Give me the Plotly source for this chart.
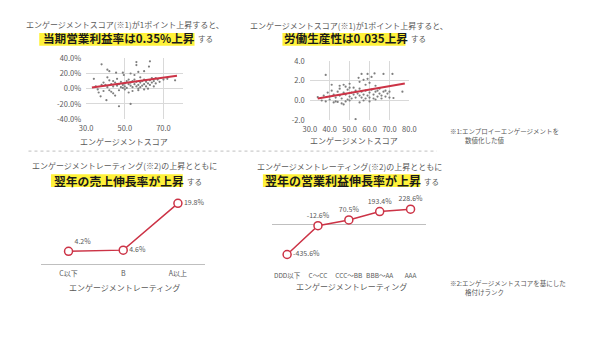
import plotly.graph_objects as go

W, H = 600, 337
FONT = "Noto Sans CJK JP"
GRAY = "#595959"
RED = "#cc3346"
GRID = "#d9d9d9"
YELLOW = "#fff23a"

# ---- data: top-left scatter (engagement score vs operating margin %) ----
s1_x = [38, 56, 63, 62.5, 56, 41, 42, 45.5, 49, 49.5, 41, 34, 53, 55, 57, 60, 58, 64, 66, 72, 76,
        47, 53, 40.5, 37.5, 36.5, 44, 45, 39, 42, 35, 36,
        40, 41, 43, 44, 45, 46, 47, 48, 48, 49, 50, 50, 51, 51, 52, 52, 53, 53, 54, 54, 55, 55,
        56, 56, 57, 57, 58, 58, 59, 59, 60, 60, 61, 61, 62, 62, 63, 63, 64, 65, 65, 66, 67, 68,
        70, 44, 46, 38, 39, 42, 47, 50, 54, 57, 60, 52, 49, 43]
s1_y = [32, 35, 36, 29, 31, 25, 23, 21, 21, 18, 15, 13, 20, 18, 22, 23, 15, 14, 14, 13, 11,
        -23, -20, -15, -10, -5, -6, -9, -3, -2, 3, -1,
        5, 2, 6, 3, 8, 4, 6, 2, 9, 5, 7, 3, 10, 1, 6, 12, 4, 8, 10, 2, 6, 12,
        3, 9, 5, 0, 8, 2, 10, 4, 6, 12, 3, 9, 7, 0, 11, 5, 8, 3, 10, 7, 12, 9,
        12, 10, 13, 5, 8, 11, -2, -1, -3, -2, -1, -5, 1, -4]
s1_trend_x = [33, 77]
s1_trend_y = [1.5, 16.9]
s1_xticks = [30, 50, 70]
s1_xticklabels = ["30.0", "50.0", "70.0"]
s1_yticks = [-40, -20, 0, 20, 40]
s1_yticklabels = ["-40.0%", "-20.0%", "0.0%", "20.0%", "40.0%"]

# ---- data: top-right scatter (engagement score vs labour productivity) ----
s2_x = [38, 56, 59, 62.5, 67, 71.5, 57, 59, 54.5, 61, 41, 45, 48, 50, 52, 55, 58, 60, 63, 65,
        68, 70, 76.5, 72,
        53, 34, 36, 38, 40, 42, 44, 46, 48, 50, 47, 55, 57, 60, 63, 66,
        37, 39, 40, 41, 42, 43, 44, 45, 46, 47, 48, 49, 50, 51, 51, 52, 53, 53, 54, 55, 55,
        56, 56, 57, 58, 58, 59, 60, 60, 61, 62, 62, 63, 64, 64, 65, 66, 67, 68, 69, 70,
        45, 47, 50, 43, 49]
s2_y = [2.6, 2.7, 2.7, 2.75, 2.7, 2.7, 2.1, 2.2, 2.3, 2.4, 1.6, 1.5, 1.4, 1.7, 1.3, 1.9, 1.6, 1.8,
        1.5, 1.2, 1.0, 0.9, 0.9, 0.25,
        -1.9, 0.35, 0.0, -0.1, 0.1, -0.2, -0.15, -0.3, -0.1, 0.0, -0.4, -0.2, 0.0, -0.1, 0.1, 0.2,
        0.5, 0.8, 0.4, 1.0, 0.6, 0.3, 0.9, 0.5, 0.2, 0.8, 0.6, 1.1, 0.4, 0.8, 0.2, 0.6, 1.0, 0.3,
        0.7, 0.5, 1.2, 0.3, 0.9, 0.6, 0.2, 1.0, 0.5, 0.8, 0.3, 1.1, 0.6, 0.2, 0.9, 0.4, 1.0, 0.7,
        0.5, 0.9, 0.4, 0.7, 0.3,
        1.2, 1.6, 1.3, -0.1, 0.1]
s2_trend_x = [34, 77.7]
s2_trend_y = [0.2, 1.73]
s2_xticks = [30, 40, 50, 60, 70, 80]
s2_yticks = [-2, 0, 2, 4]

# ---- data: bottom-left line (rating vs next-year sales growth %) ----
l1_cats = ["C以下", "B", "A以上"]
l1_vals = [4.2, 4.6, 19.8]
l1_labels = ["4.2%", "4.6%", "19.8%"]

# ---- data: bottom-right line (rating vs next-year operating profit growth %) ----
l2_cats = ["DDD以下", "C～CC", "CCC～BB", "BBB～AA", "AAA"]
l2_vals = [-435.6, -12.6, 70.5, 193.4, 228.6]
l2_labels = ["-435.6%", "-12.6%", "70.5%", "193.4%", "228.6%"]


def px(x):
    return x / W


def py(y):
    return 1 - y / H


fig = go.Figure()

# scatter 1
fig.add_trace(go.Scatter(x=s1_x, y=s1_y, mode="markers", xaxis="x", yaxis="y",
                         marker=dict(size=2.2, color="#7f7f7f"), showlegend=False))
fig.add_trace(go.Scatter(x=s1_trend_x, y=s1_trend_y, mode="lines", xaxis="x", yaxis="y",
                         line=dict(color=RED, width=2), showlegend=False))
# scatter 2
fig.add_trace(go.Scatter(x=s2_x, y=s2_y, mode="markers", xaxis="x2", yaxis="y2",
                         marker=dict(size=2.2, color="#7f7f7f"), showlegend=False))
fig.add_trace(go.Scatter(x=s2_trend_x, y=s2_trend_y, mode="lines", xaxis="x2", yaxis="y2",
                         line=dict(color=RED, width=2), showlegend=False))
# line 1
fig.add_trace(go.Scatter(x=l1_cats, y=l1_vals, mode="lines+markers+text", xaxis="x3", yaxis="y3",
                         text=l1_labels, textposition=["top right", "middle right", "middle right"],
                         textfont=dict(size=7, color=GRAY, family=FONT),
                         line=dict(color=RED, width=1.5),
                         marker=dict(size=8, color="white", line=dict(color=RED, width=1.5)),
                         showlegend=False, cliponaxis=False))
# line 2
fig.add_trace(go.Scatter(x=l2_cats, y=l2_vals, mode="lines+markers+text", xaxis="x4", yaxis="y4",
                         text=l2_labels,
                         textposition=["middle right", "top center", "top center", "top center", "top center"],
                         textfont=dict(size=7, color=GRAY, family=FONT),
                         line=dict(color=RED, width=1.5),
                         marker=dict(size=8, color="white", line=dict(color=RED, width=1.5)),
                         showlegend=False, cliponaxis=False))

tickfont = dict(size=7.5, color=GRAY, family=FONT)
common = dict(zeroline=False, ticks="", fixedrange=True)

fig.update_layout(
    width=W, height=H, margin=dict(l=0, r=0, t=0, b=0),
    paper_bgcolor="white", plot_bgcolor="white",
    font=dict(family=FONT, color=GRAY),
    xaxis=dict(domain=[px(81), px(180)], range=[30, 80], tickvals=s1_xticks, ticktext=s1_xticklabels,
               showgrid=True, gridcolor=GRID, gridwidth=1, tickfont=tickfont, anchor="y",
               ticklabelstandoff=3, **common),
    yaxis=dict(domain=[py(117), py(54)], range=[-40, 40], tickvals=s1_yticks, ticktext=s1_yticklabels,
               showgrid=True, gridcolor=GRID, tickfont=tickfont, anchor="x", ticklabelstandoff=4, **common),
    xaxis2=dict(domain=[px(310), px(412)], range=[30, 80], tickvals=s2_xticks,
                ticktext=[f"{v:.1f}" for v in s2_xticks],
                showgrid=True, gridcolor=GRID, tickfont=tickfont, anchor="y2", ticklabelstandoff=3, **common),
    yaxis2=dict(domain=[py(118), py(57)], range=[-2, 4], tickvals=s2_yticks,
                ticktext=[f"{v:.1f}" for v in s2_yticks],
                showgrid=True, gridcolor=GRID, tickfont=tickfont, anchor="x2", ticklabelstandoff=4, **common),
    xaxis3=dict(domain=[px(35), px(203)], type="category", range=[-0.5, 2.5], showgrid=False,
                showline=True, linecolor="#bfbfbf", linewidth=1, tickfont=dict(size=7, color=GRAY, family=FONT),
                anchor="y3", ticklabelstandoff=2, **common),
    yaxis3=dict(domain=[py(267), py(197)], range=[0, 22], visible=False, anchor="x3", fixedrange=True),
    xaxis4=dict(domain=[px(271), px(429)], type="category", range=[-0.5, 4.5], showgrid=False,
                showline=False, tickfont=dict(size=6.5, color=GRAY, family=FONT), anchor="y4",
                ticklabelstandoff=1, **common),
    yaxis4=dict(domain=[py(272), py(205)], range=[-650, 300], showgrid=False, showticklabels=False,
                zeroline=True, zerolinecolor="#bfbfbf", zerolinewidth=1, ticks="", anchor="x4", fixedrange=True),
)

shapes = []
# highlight bands
for x0, x1, y0, y1 in [(33, 192, 28, 41), (282, 408, 28, 41), (45, 180, 174, 187), (262, 423, 174, 187)]:
    shapes.append(dict(type="rect", xref="paper", yref="paper", x0=px(x0), x1=px(x1), y0=py(y1), y1=py(y0),
                       fillcolor=YELLOW, line=dict(width=0), layer="below"))
# dotted separator
shapes.append(dict(type="line", xref="paper", yref="paper", x0=px(22), x1=px(440), y0=py(150), y1=py(150),
                   line=dict(color="#bfbfbf", width=1, dash="dot")))
fig.update_layout(shapes=shapes)

ann = []


def text(t, x, y, size, color=GRAY, anchor="center"):
    ann.append(dict(text=t, x=px(x), y=py(y), xref="paper", yref="paper", showarrow=False,
                    xanchor=anchor, yanchor="middle", borderpad=0,
                    font=dict(size=size, color=color, family=FONT)))


DARK = "#1a1a1a"
# top-left
text("エンゲージメントスコア(※1)が1ポイント上昇すると、", 121, 19, 8)
text("<b>当期営業利益率は0.35%上昇</b>", 36, 33, 11.6, DARK, "left")
text("する", 195, 34, 7.5, GRAY, "left")
text("エンゲージメントスコア", 120, 140, 8)
# top-right
text("エンゲージメントスコア(※1)が1ポイント上昇すると、", 350, 20, 8)
text("<b>労働生産性は0.035上昇</b>", 283, 33, 11.6, DARK, "left")
text("する", 413, 34, 7.5, GRAY, "left")
text("エンゲージメントスコア", 355, 139, 8)
# bottom-left
text("エンゲージメントレーティング(※2)の上昇とともに", 120, 165, 8)
text("<b>翌年の売上伸長率が上昇</b>", 47, 180, 11.8, DARK, "left")
text("する", 183, 181, 7.5, GRAY, "left")
text("エンゲージメントレーティング", 120, 291, 8)
# bottom-right
text("エンゲージメントレーティング(※2)の上昇とともに", 351, 166, 8)
text("<b>翌年の営業利益伸長率が上昇</b>", 263, 180, 12, DARK, "left")
text("する", 426, 181, 7.5, GRAY, "left")
text("エンゲージメントレーティング", 353, 290, 8)
# footnotes
text("※1:エンプロイーエンゲージメントを", 453, 129, 6.5, GRAY, "left")
text("数値化した値", 468, 139, 6.5, GRAY, "left")
text("※2:エンゲージメントスコアを基にした", 453, 286, 6.5, GRAY, "left")
text("格付けランク", 468, 296, 6.5, GRAY, "left")

fig.update_layout(annotations=ann)
fig.write_html("out.html")
